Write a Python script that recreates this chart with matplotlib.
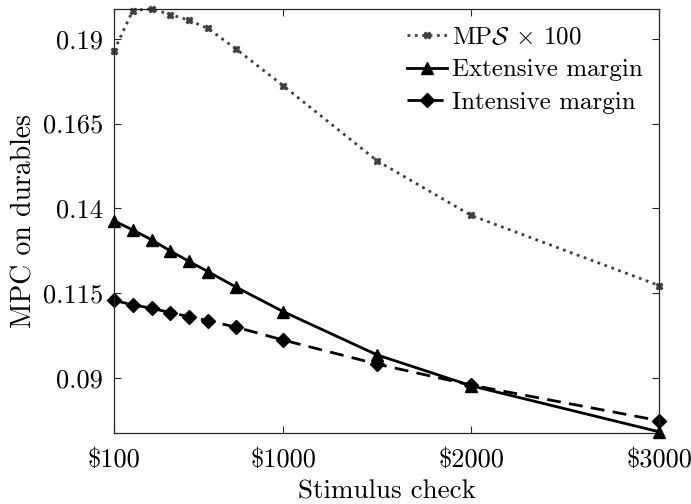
import matplotlib
matplotlib.use('Agg')
import matplotlib.pyplot as plt
import numpy as np

plt.rcParams['font.family'] = 'serif'
plt.rcParams['font.serif'] = ['cmr10']
plt.rcParams['mathtext.fontset'] = 'cm'
plt.rcParams['axes.unicode_minus'] = False

# stimulus check sizes ($)
checks = [100, 200, 300, 400, 500, 600, 750, 1000, 1500, 2000, 3000]
# MPS x 100
mps = [0.1865, 0.1984, 0.1989, 0.1972, 0.1955, 0.1931, 0.1870, 0.1762, 0.1540, 0.1379, 0.1172]
extensive = [0.1363, 0.1336, 0.1307, 0.1274, 0.1243, 0.1213, 0.1167, 0.1095, 0.0967, 0.0876, 0.0740]
intensive = [0.1128, 0.1115, 0.1105, 0.1092, 0.1080, 0.1068, 0.1049, 0.1011, 0.0940, 0.0878, 0.0773]

xticks = [100, 1000, 2000, 3000]
xticklabels = [r'\$100', r'\$1000', r'\$2000', r'\$3000']
yticks = [0.09, 0.115, 0.14, 0.165, 0.19]
yticklabels = ['0.09', '0.115', '0.14', '0.165', '0.19']

fig = plt.figure(figsize=(6.91, 5.04), dpi=100)
ax = fig.add_axes([0.165, 0.1415, 0.789, 0.840])

ax.plot(checks, mps, linestyle=':', color='#404040', linewidth=2, marker='X',
        markersize=5, label=r'MP$\mathcal{S}$ $\times$ 100', clip_on=False)
ax.plot(checks, extensive, linestyle='-', color='black', linewidth=2, marker='^',
        markersize=9, label='Extensive margin', clip_on=False, zorder=4)
ax.plot(checks, intensive, linestyle='--', color='black', linewidth=2, marker='D',
        markersize=7, label='Intensive margin', clip_on=False, dashes=(5, 3))

ax.set_xlim(100, 3000)
ax.set_ylim(0.07375, 0.19875)
ax.set_xticks(xticks)
ax.set_xticklabels(xticklabels, fontsize=19)
ax.set_yticks(yticks)
ax.set_yticklabels(yticklabels, fontsize=19)
ax.tick_params(direction='in', top=True, right=True, length=5, width=0.8,
               color='#262626', pad=11)
ax.tick_params(axis='y', pad=8)
for s in ax.spines.values():
    s.set_linewidth(0.9)
    s.set_color('#262626')

ax.set_xlabel('Stimulus check', fontsize=19.5, labelpad=6)
ax.set_ylabel('MPC on durables', fontsize=20, labelpad=4)

ax.legend(loc='upper right', frameon=False, fontsize=18, handlelength=1.6,
          handletextpad=0.2, labelspacing=0.4, borderaxespad=0.2,
          bbox_to_anchor=(0.997, 0.995))

fig.savefig('out.png', dpi=100)
